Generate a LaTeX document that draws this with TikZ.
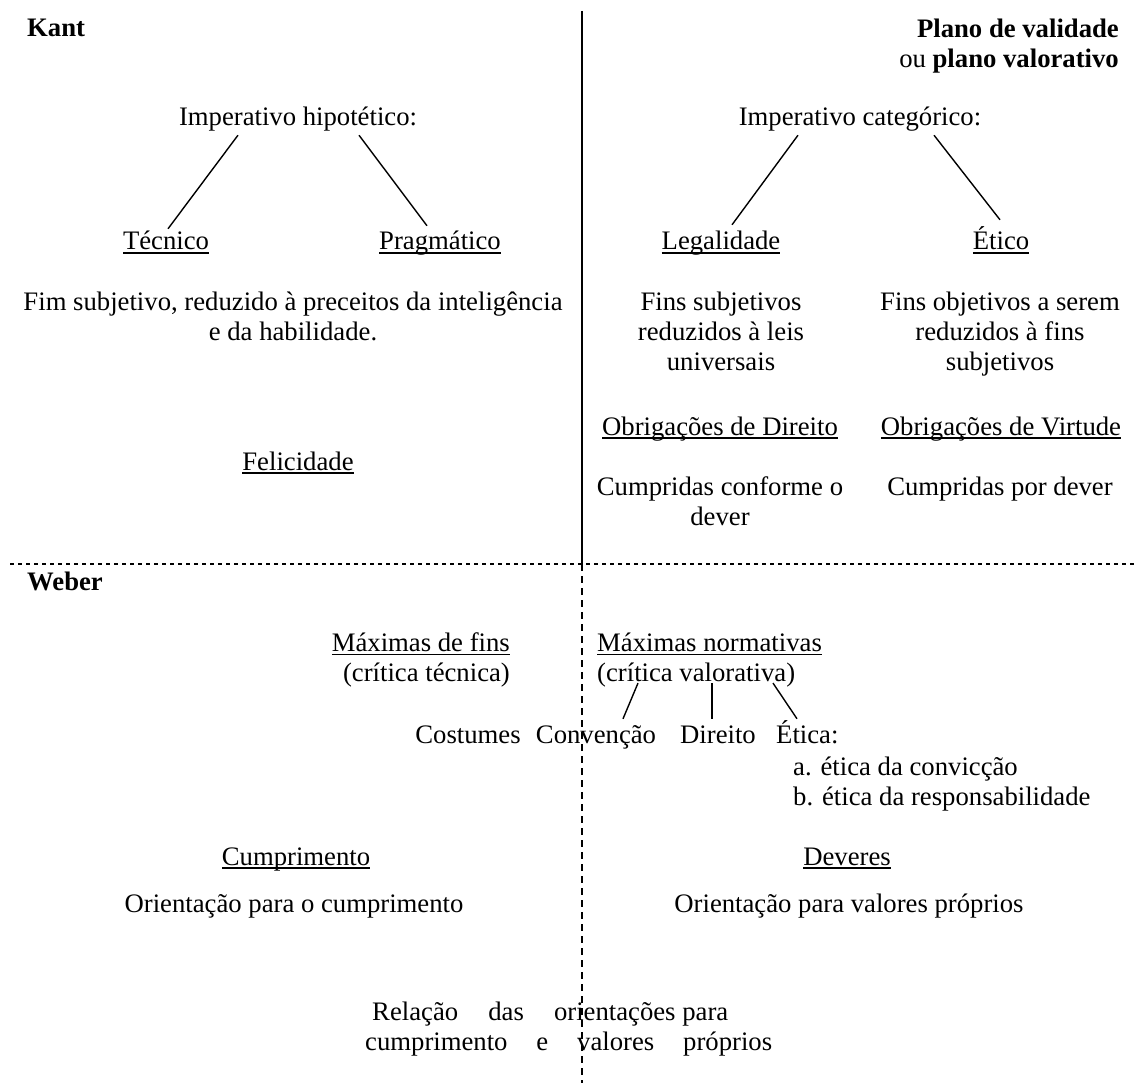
\documentclass[tikz,border=0pt]{standalone}
\usepackage{fontspec}
\setmainfont{Liberation Serif}
\newcommand{\ulin}[1]{\setbox0\hbox{#1}\rlap{\rule[-4pt]{\wd0}{1.6pt}}\box0}
\newcommand{\firstl}{\rule{0pt}{20pt}}

\begin{document}
\begin{tikzpicture}[x=1pt, y=-1pt,
	txt/.style={inner sep=0pt, font={\fontsize{26.7pt}{30pt}\selectfont}},
	lbl/.style={txt, text height=19pt, text depth=6pt, anchor=base},
	branch/.style={line width=1.4pt}]
	\useasboundingbox (0,0) rectangle (1134,1083);

	% dividers
	\draw[line width=2pt] (582,11) -- (582,564);
	\draw[line width=2pt, dash pattern=on 4pt off 4pt] (10,564) -- (1134,564);
	\draw[line width=2pt, dash pattern=on 7pt off 5pt] (582,564) -- (582,1083);

	% Kant
	\node (kant) [lbl, anchor=base west] at (27,37) {\textbf{Kant}};
	\node (plano) [txt, anchor=north east, align=right] at (1119,17) {\firstl\textbf{Plano de validade}\\ou \textbf{plano valorativo}};

	\node (imphip) [lbl] at (298,126) {Imperativo hipotético:};
	\node (tecnico) [lbl] at (166,250) {\ulin{Técnico}};
	\node (pragm) [lbl] at (440,250) {\ulin{Pragmático}};
	\draw[branch] ([xshift=-60pt,yshift=-3pt]imphip.south) -- ([xshift=2pt,yshift=2pt]tecnico.north);
	\draw[branch] ([xshift=61pt,yshift=-3pt]imphip.south) -- ([xshift=-13pt,yshift=5pt]pragm.north);

	\node (impcat) [lbl] at (860,126) {Imperativo categórico:};
	\node (legal) [lbl] at (721,250) {\ulin{Legalidade}};
	\node (etico) [lbl] at (1001,250) {\ulin{Ético}};
	\draw[branch] ([xshift=-62pt,yshift=-3pt]impcat.south) -- ([xshift=11pt,yshift=6pt]legal.north);
	\draw[branch] ([xshift=74pt,yshift=-3pt]impcat.south) -- ([xshift=-1pt,yshift=11pt]etico.north);

	\node (fimsub) [txt, anchor=north, align=center] at (293,290) {\firstl Fim subjetivo, reduzido à preceitos da inteligência\\e da habilidade.};
	\node (finssub) [txt, anchor=north, align=center] at (721,290) {\firstl Fins subjetivos\\reduzidos à leis\\universais};
	\node (finsobj) [txt, anchor=north, align=center] at (1000,290) {\firstl Fins objetivos a serem\\reduzidos à fins\\subjetivos};

	\node (obdir) [lbl] at (720,435) {\ulin{Obrigações de Direito}};
	\node (obvir) [lbl] at (1001,435) {\ulin{Obrigações de Virtude}};
	\node (felic) [lbl] at (298,470) {\ulin{Felicidade}};
	\node (cumpconf) [txt, anchor=north, align=center] at (720,475) {\firstl Cumpridas conforme o\\dever};
	\node (cumpdev) [lbl] at (1000,495) {Cumpridas por dever};

	% Weber
	\node (weber) [lbl, anchor=base west] at (27,590) {\textbf{Weber}};
	\node (maxfins) [txt, anchor=north east, align=right] at (510,631) {\firstl\ulin{Máximas de fins}\\(crítica técnica)};
	\node (maxnorm) [txt, anchor=north west, align=left] at (597,631) {\firstl\ulin{Máximas normativas}\\(crítica valorativa)};

	\node (costumes) [lbl] at (468,743) {Costumes};
	\node (convencao) [lbl] at (596,743) {Convenção};
	\node (direito) [lbl] at (718,743) {Direito};
	\node (etica) [lbl, anchor=base west] at (776,743) {Ética:};
	\node (etlist) [txt, anchor=north west, align=left] at (793,755) {\firstl a. ética da convicção\\b. ética da responsabilidade};
	\draw[branch] ([xshift=41pt,yshift=4pt]maxnorm.south west) -- ([xshift=27pt,yshift=5pt]convencao.north);
	\draw[branch] ([xshift=115pt,yshift=4pt]maxnorm.south west) -- ([xshift=-6pt,yshift=5pt]direito.north);
	\draw[branch] ([xshift=176pt,yshift=4pt]maxnorm.south west) -- ([xshift=21pt,yshift=5pt]etica.north west);

	\node (cumpr) [lbl] at (296,865) {\ulin{Cumprimento}};
	\node (deveres) [lbl] at (847,865) {\ulin{Deveres}};
	\node (oricump) [lbl] at (294,912) {Orientação para o cumprimento};
	\node (oriprop) [lbl] at (849,912) {Orientação para valores próprios};

	\node (relacao) [txt, anchor=north west, align=left] at (365,1000) {\firstl\hbox to 363pt{\hspace{7pt}Relação\hfill das\hfill orientações para}\\\hbox to 407pt{cumprimento\hfill e\hfill valores\hfill próprios}};
\end{tikzpicture}
\end{document}
